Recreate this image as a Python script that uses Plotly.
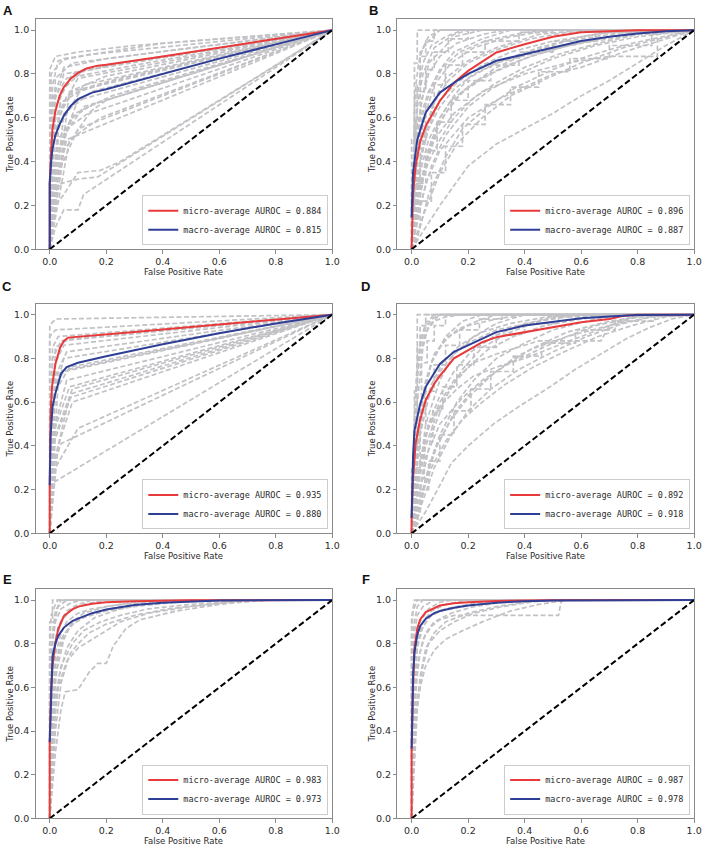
import plotly.graph_objects as go

W, H = 714, 856

panel_labels = ["A", "B", "C", "D", "E", "F"]
micro_auc = [0.884, 0.896, 0.935, 0.892, 0.983, 0.987]
macro_auc = [0.815, 0.887, 0.880, 0.918, 0.973, 0.978]
tick_vals = [0.0, 0.2, 0.4, 0.6, 0.8, 1.0]
tick_text = ["0.0", "0.2", "0.4", "0.6", "0.8", "1.0"]

# ---------------- Panel A ----------------
A_micro_fpr = [0, 0, 0.005, 0.01, 0.02, 0.035, 0.05, 0.075, 0.1, 0.13, 0.17, 0.2, 0.4, 0.6, 0.8, 1]
A_micro_tpr = [0, 0.3, 0.45, 0.55, 0.63, 0.7, 0.74, 0.78, 0.805, 0.825, 0.838, 0.842, 0.88, 0.92, 0.96, 1]
A_macro_fpr = [0, 0, 0.005, 0.01, 0.02, 0.035, 0.05, 0.075, 0.1, 0.15, 0.2, 0.4, 0.6, 0.8, 1]
A_macro_tpr = [0, 0.3, 0.4, 0.46, 0.52, 0.57, 0.61, 0.655, 0.685, 0.715, 0.73, 0.8, 0.87, 0.935, 1]
A_classes = [
    [(0, 0), (0, 0.82), (0.02, 0.88), (0.1, 0.9), (0.3, 0.93), (1, 1)],
    [(0, 0), (0.01, 0.75), (0.03, 0.86), (0.15, 0.89), (1, 1)],
    [(0, 0), (0.01, 0.68), (0.05, 0.83), (0.2, 0.87), (1, 1)],
    [(0, 0), (0.02, 0.65), (0.08, 0.8), (0.25, 0.85), (1, 1)],
    [(0, 0), (0.02, 0.6), (0.1, 0.78), (1, 1)],
    [(0, 0), (0.03, 0.55), (0.12, 0.75), (1, 1)],
    [(0, 0), (0.01, 0.5), (0.06, 0.7), (0.2, 0.76), (1, 1)],
    [(0, 0), (0.03, 0.45), (0.1, 0.68), (1, 1)],
    [(0, 0), (0.04, 0.5), (0.12, 0.65), (1, 1)],
    [(0, 0), (0.02, 0.4), (0.08, 0.6), (0.15, 0.66), (1, 1)],
    [(0, 0), (0.05, 0.45), (0.14, 0.62), (1, 1)],
    [(0, 0), (0.03, 0.35), (0.1, 0.55), (1, 1)],
    [(0, 0), (0.07, 0.5), (0.18, 0.6), (1, 1)],
    [(0, 0), (0.02, 0.3), (0.06, 0.5), (1, 1)],
    [(0, 0), (0.02, 0.2), (0.05, 0.25), (0.1, 0.35), (0.18, 0.36), (0.25, 0.4), (1, 1)],
    [(0, 0), (0.02, 0.1), (0.05, 0.18), (0.1, 0.18), (0.12, 0.25), (1, 1)],
    [(0, 0), (0.01, 0.25), (0.04, 0.3), (0.1, 0.32), (0.17, 0.33), (1, 1)],
    [(0, 0), (0.01, 0.65), (0.05, 0.8), (1, 1)],
    [(0, 0), (0.04, 0.72), (0.12, 0.82), (1, 1)],
    [(0, 0), (0.07, 0.72), (0.2, 0.79), (1, 1)],
    [(0, 0), (0.005, 0.8), (0.05, 0.87), (0.4, 0.94), (1, 1)],
    [(0, 0), (0.03, 0.6), (0.08, 0.72), (0.25, 0.78), (1, 1)],
    [(0, 0), (0.02, 0.7), (0.06, 0.78), (0.3, 0.84), (1, 1)],
    [(0, 0), (0.05, 0.62), (0.15, 0.72), (1, 1)],
    [(0, 0), (0.03, 0.5), (0.09, 0.62), (0.22, 0.7), (1, 1)],
    [(0, 0), (0.01, 0.55), (0.04, 0.67), (0.12, 0.73), (1, 1)],
    [(0, 0), (0.06, 0.55), (0.2, 0.68), (1, 1)],
    [(0, 0), (0.02, 0.78), (0.08, 0.85), (1, 1)],
]

# ---------------- Panel B ----------------
B_micro_fpr = [0, 0.005, 0.014, 0.03, 0.05, 0.1, 0.15, 0.2, 0.3, 0.4, 0.5, 0.6, 0.7, 0.8, 1]
B_micro_tpr = [0, 0.25, 0.38, 0.49, 0.563, 0.677, 0.76, 0.814, 0.898, 0.936, 0.97, 0.99, 0.995, 0.999, 1]
B_macro_fpr = [0, 0.005, 0.02, 0.05, 0.1, 0.15, 0.2, 0.3, 0.4, 0.5, 0.6, 0.7, 0.8, 0.9, 1]
B_macro_tpr = [0.145, 0.35, 0.5, 0.624, 0.715, 0.76, 0.8, 0.86, 0.89, 0.92, 0.95, 0.97, 0.985, 0.995, 1]
B_classes = [
    [(0, 0), (0, 0.5), (0.01, 0.5), (0.01, 0.85), (0.02, 0.85), (0.02, 1.0), (1, 1)],
    [(0, 0), (0.01, 0.3), (0.01, 0.7), (0.03, 0.75), (0.03, 0.9), (0.06, 0.95), (0.1, 1.0), (1, 1)],
    [(0, 0), (0.01, 0.2), (0.02, 0.55), (0.04, 0.7), (0.06, 0.85), (0.1, 0.9), (0.15, 0.97), (0.25, 1.0), (1, 1)],
    [(0, 0), (0.02, 0.35), (0.03, 0.6), (0.06, 0.72), (0.1, 0.82), (0.15, 0.9), (0.25, 0.96), (0.35, 1), (1, 1)],
    [(0, 0), (0.02, 0.25), (0.04, 0.5), (0.08, 0.68), (0.12, 0.78), (0.2, 0.86), (0.3, 0.92), (0.45, 0.98), (0.6, 1), (1, 1)],
    [(0, 0), (0.01, 0.1), (0.03, 0.4), (0.06, 0.56), (0.1, 0.68), (0.16, 0.76), (0.25, 0.84), (0.35, 0.9), (0.5, 0.95), (0.7, 0.99), (1, 1)],
    [(0, 0), (0.02, 0.15), (0.05, 0.4), (0.1, 0.58), (0.15, 0.68), (0.22, 0.76), (0.3, 0.83), (0.42, 0.9), (0.55, 0.95), (0.75, 0.99), (1, 1)],
    [(0, 0), (0.03, 0.2), (0.07, 0.38), (0.12, 0.52), (0.2, 0.65), (0.28, 0.73), (0.38, 0.8), (0.5, 0.87), (0.65, 0.93), (0.8, 0.97), (1, 1)],
    [(0, 0), (0.04, 0.15), (0.1, 0.35), (0.16, 0.48), (0.25, 0.6), (0.35, 0.7), (0.48, 0.78), (0.6, 0.85), (0.75, 0.92), (0.9, 0.97), (1, 1)],
    [(0, 0), (0.05, 0.1), (0.1, 0.2), (0.2, 0.38), (0.3, 0.48), (0.4, 0.55), (0.5, 0.62), (0.6, 0.7), (0.7, 0.77), (0.8, 0.85), (0.9, 0.93), (1, 1)],
    [(0, 0), (0.03, 0.3), (0.08, 0.5), (0.15, 0.62), (0.25, 0.72), (0.4, 0.8), (0.55, 0.85), (0.7, 0.88), (0.87, 0.88), (0.87, 1.0), (1, 1)],
    [(0, 0), (0, 0.3), (0.01, 0.45), (0.02, 0.65), (0.04, 0.8), (0.08, 0.92), (0.15, 0.98), (0.2, 1), (1, 1)],
    [(0, 0), (0.01, 0.25), (0.02, 0.45), (0.05, 0.62), (0.08, 0.75), (0.14, 0.85), (0.22, 0.92), (0.35, 0.97), (0.5, 1), (1, 1)],
    [(0, 0), (0.02, 0.2), (0.04, 0.35), (0.07, 0.5), (0.12, 0.62), (0.18, 0.72), (0.28, 0.8), (0.4, 0.87), (0.55, 0.93), (0.7, 0.97), (0.85, 1), (1, 1)],
    [(0, 0), (0.03, 0.25), (0.06, 0.45), (0.1, 0.6), (0.15, 0.7), (0.2, 0.78), (0.3, 0.85), (0.45, 0.9), (0.6, 0.94), (0.8, 0.98), (1, 1)],
    [(0, 0), (0.02, 0.05), (0.06, 0.25), (0.12, 0.42), (0.18, 0.55), (0.27, 0.65), (0.37, 0.74), (0.5, 0.82), (0.62, 0.88), (0.78, 0.94), (1, 1)],
    [(0, 0), (0.01, 0.4), (0.02, 0.7), (0.04, 0.85), (0.07, 0.93), (0.12, 0.97), (0.18, 1), (1, 1)],
    [(0, 0), (0.05, 0.3), (0.1, 0.45), (0.2, 0.6), (0.3, 0.68), (0.42, 0.75), (0.5, 0.8), (0.6, 0.83), (0.75, 0.9), (0.9, 0.96), (1, 1)],
    [(0, 0), (0, 0.2), (0.01, 0.2), (0.01, 0.55), (0.02, 0.55), (0.02, 0.75), (0.03, 0.75), (0.03, 0.88), (0.05, 0.88), (0.05, 0.95), (0.08, 0.95), (0.08, 1), (1, 1)],
    [(0, 0), (0.005, 0.15), (0.005, 0.35), (0.015, 0.35), (0.015, 0.6), (0.03, 0.6), (0.03, 0.72), (0.05, 0.72), (0.05, 0.82), (0.08, 0.82), (0.08, 0.9), (0.13, 0.9), (0.13, 0.96), (0.2, 0.96), (0.2, 1), (1, 1)],
    [(0, 0), (0.01, 0.1), (0.01, 0.3), (0.03, 0.3), (0.03, 0.5), (0.05, 0.5), (0.05, 0.65), (0.08, 0.65), (0.08, 0.75), (0.12, 0.75), (0.12, 0.84), (0.18, 0.84), (0.18, 0.9), (0.26, 0.9), (0.26, 0.95), (0.38, 0.95), (0.38, 0.99), (0.5, 0.99), (0.5, 1), (1, 1)],
    [(0, 0), (0.02, 0.15), (0.02, 0.3), (0.05, 0.3), (0.05, 0.45), (0.09, 0.45), (0.09, 0.58), (0.14, 0.58), (0.14, 0.68), (0.2, 0.68), (0.2, 0.77), (0.28, 0.77), (0.28, 0.84), (0.38, 0.84), (0.38, 0.9), (0.5, 0.9), (0.5, 0.95), (0.65, 0.95), (0.65, 0.99), (0.8, 0.99), (0.8, 1), (1, 1)],
    [(0, 0), (0.03, 0.1), (0.03, 0.22), (0.07, 0.22), (0.07, 0.35), (0.12, 0.35), (0.12, 0.47), (0.18, 0.47), (0.18, 0.57), (0.26, 0.57), (0.26, 0.66), (0.35, 0.66), (0.35, 0.74), (0.45, 0.74), (0.45, 0.81), (0.56, 0.81), (0.56, 0.87), (0.7, 0.87), (0.7, 0.93), (0.85, 0.93), (0.85, 0.98), (1, 1)],
    [(0, 0), (0.005, 0.4), (0.01, 0.62), (0.015, 0.75), (0.025, 0.85), (0.04, 0.92), (0.06, 0.97), (0.1, 1), (1, 1)],
    [(0, 0), (0.01, 0.35), (0.02, 0.5), (0.035, 0.68), (0.06, 0.8), (0.1, 0.88), (0.16, 0.94), (0.25, 0.98), (0.33, 1), (1, 1)],
    [(0, 0), (0.015, 0.2), (0.03, 0.4), (0.05, 0.55), (0.08, 0.67), (0.13, 0.77), (0.2, 0.85), (0.3, 0.91), (0.42, 0.96), (0.55, 0.99), (0.7, 1), (1, 1)],
    [(0, 0), (0.02, 0.3), (0.04, 0.45), (0.06, 0.55), (0.1, 0.65), (0.15, 0.73), (0.22, 0.8), (0.32, 0.86), (0.45, 0.92), (0.6, 0.97), (0.75, 1), (1, 1)],
    [(0, 0), (0.01, 0.15), (0.03, 0.28), (0.06, 0.4), (0.1, 0.5), (0.15, 0.6), (0.22, 0.69), (0.3, 0.76), (0.4, 0.83), (0.52, 0.89), (0.66, 0.94), (0.8, 0.98), (1, 1)],
    [(0, 0), (0.02, 0.45), (0.04, 0.62), (0.07, 0.74), (0.11, 0.83), (0.17, 0.9), (0.26, 0.95), (0.4, 0.99), (0.5, 1), (1, 1)],
    [(0, 0), (0.03, 0.35), (0.06, 0.5), (0.1, 0.6), (0.14, 0.68), (0.2, 0.74), (0.26, 0.79), (0.34, 0.84), (0.44, 0.89), (0.56, 0.93), (0.7, 0.97), (0.85, 1), (1, 1)],
]

# ---------------- Panel C ----------------
C_micro_fpr = [0, 0, 0.003, 0.008, 0.02, 0.037, 0.05, 0.065, 0.3, 0.6, 1]
C_micro_tpr = [0, 0.22, 0.55, 0.67, 0.775, 0.85, 0.88, 0.895, 0.921, 0.955, 1]
C_macro_fpr = [0, 0.003, 0.01, 0.02, 0.04, 0.06, 0.1, 0.2, 0.4, 0.6, 0.8, 1]
C_macro_tpr = [0.22, 0.45, 0.58, 0.64, 0.73, 0.76, 0.78, 0.81, 0.865, 0.915, 0.96, 1]
C_classes = [
    [(0, 0), (0, 0.95), (0.02, 0.98), (1, 1)],
    [(0, 0), (0, 0.9), (0.02, 0.93), (1, 1)],
    [(0, 0), (0.01, 0.85), (0.03, 0.9), (1, 1)],
    [(0, 0), (0.01, 0.8), (0.04, 0.88), (1, 1)],
    [(0, 0), (0.02, 0.78), (0.05, 0.86), (1, 1)],
    [(0, 0), (0.02, 0.72), (0.06, 0.83), (1, 1)],
    [(0, 0), (0.01, 0.6), (0.05, 0.8), (1, 1)],
    [(0, 0), (0.02, 0.65), (0.07, 0.76), (1, 1)],
    [(0, 0), (0.01, 0.55), (0.03, 0.74), (1, 1)],
    [(0, 0), (0.02, 0.5), (0.06, 0.7), (1, 1)],
    [(0, 0), (0.01, 0.45), (0.07, 0.67), (1, 1)],
    [(0, 0), (0.02, 0.45), (0.08, 0.66), (1, 1)],
    [(0, 0), (0.01, 0.4), (0.08, 0.64), (1, 1)],
    [(0, 0), (0.02, 0.35), (0.07, 0.62), (1, 1)],
    [(0, 0), (0.03, 0.4), (0.08, 0.6), (1, 1)],
    [(0, 0), (0.01, 0.3), (0.04, 0.41), (1, 1)],
    [(0, 0), (0, 0.15), (0.01, 0.23), (1, 1)],
    [(0, 0), (0.02, 0.3), (0.1, 0.48), (1, 1)],
    [(0, 0), (0.02, 0.85), (0.07, 0.89), (1, 1)],
    [(0, 0), (0.03, 0.7), (0.05, 0.74), (1, 1)],
]

# ---------------- Panel D ----------------
D_micro_fpr = [0, 0, 0.005, 0.014, 0.03, 0.05, 0.08, 0.1, 0.15, 0.2, 0.25, 0.3, 0.4, 0.5, 0.6, 0.7, 0.75, 0.8, 1]
D_micro_tpr = [0, 0.07, 0.25, 0.41, 0.52, 0.61, 0.684, 0.72, 0.8, 0.836, 0.874, 0.897, 0.92, 0.94, 0.965, 0.98, 0.995, 1, 1]
D_macro_fpr = [0, 0.005, 0.01, 0.02, 0.03, 0.05, 0.08, 0.1, 0.15, 0.2, 0.3, 0.4, 0.5, 0.6, 0.7, 0.8, 1]
D_macro_tpr = [0.07, 0.35, 0.47, 0.53, 0.59, 0.67, 0.73, 0.775, 0.83, 0.86, 0.92, 0.95, 0.968, 0.983, 0.992, 0.998, 1]
D_classes = [
    [(0, 0), (0.01, 0.5), (0.02, 0.8), (0.02, 1.0), (1, 1)],
    [(0, 0), (0.01, 0.3), (0.02, 0.6), (0.04, 0.85), (0.06, 0.95), (0.1, 1), (1, 1)],
    [(0, 0), (0.02, 0.3), (0.04, 0.6), (0.07, 0.78), (0.12, 0.9), (0.18, 0.97), (0.25, 1), (1, 1)],
    [(0, 0), (0.02, 0.2), (0.05, 0.5), (0.1, 0.7), (0.15, 0.82), (0.22, 0.9), (0.3, 0.96), (0.4, 1), (1, 1)],
    [(0, 0), (0.03, 0.2), (0.07, 0.45), (0.12, 0.62), (0.18, 0.75), (0.25, 0.85), (0.35, 0.92), (0.45, 0.97), (0.55, 1), (1, 1)],
    [(0, 0), (0.02, 0.1), (0.06, 0.3), (0.1, 0.45), (0.16, 0.6), (0.22, 0.7), (0.3, 0.8), (0.4, 0.87), (0.5, 0.93), (0.65, 0.98), (0.75, 1), (1, 1)],
    [(0, 0), (0.04, 0.15), (0.08, 0.3), (0.14, 0.45), (0.2, 0.56), (0.28, 0.66), (0.38, 0.75), (0.5, 0.83), (0.62, 0.9), (0.75, 0.96), (0.85, 0.99), (1, 1)],
    [(0, 0), (0.05, 0.1), (0.1, 0.22), (0.14, 0.32), (0.2, 0.4), (0.29, 0.5), (0.38, 0.58), (0.49, 0.67), (0.58, 0.75), (0.67, 0.82), (0.76, 0.89), (0.84, 0.94), (0.92, 0.98), (1, 1)],
    [(0, 0), (0.02, 0.25), (0.05, 0.45), (0.1, 0.6), (0.15, 0.7), (0.22, 0.78), (0.3, 0.82), (0.4, 0.86), (0.45, 0.88), (0.67, 0.88), (0.7, 0.95), (0.8, 1), (1, 1)],
    [(0, 0), (0.01, 0.2), (0.03, 0.45), (0.06, 0.62), (0.1, 0.74), (0.15, 0.82), (0.2, 0.87), (0.3, 0.93), (0.45, 0.97), (0.6, 1), (1, 1)],
    [(0, 0), (0.03, 0.3), (0.06, 0.5), (0.1, 0.58), (0.16, 0.66), (0.22, 0.72), (0.3, 0.76), (0.4, 0.8), (0.5, 0.85), (0.6, 0.9), (0.7, 0.95), (0.8, 0.99), (1, 1)],
    [(0, 0), (0.01, 0.4), (0.02, 0.7), (0.03, 0.88), (0.05, 0.96), (0.08, 1), (1, 1)],
    [(0, 0), (0.02, 0.05), (0.04, 0.2), (0.08, 0.38), (0.14, 0.52), (0.2, 0.62), (0.28, 0.72), (0.36, 0.8), (0.45, 0.86), (0.55, 0.92), (0.7, 0.97), (0.85, 1), (1, 1)],
    [(0, 0), (0.015, 0.3), (0.03, 0.55), (0.05, 0.7), (0.08, 0.82), (0.13, 0.9), (0.2, 0.95), (0.3, 0.98), (0.4, 1), (1, 1)],
    [(0, 0), (0.02, 0.15), (0.05, 0.35), (0.1, 0.5), (0.18, 0.62), (0.25, 0.7), (0.35, 0.78), (0.45, 0.84), (0.55, 0.9), (0.65, 0.95), (0.8, 0.99), (1, 1)],
    [(0, 0), (0.03, 0.1), (0.05, 0.25), (0.09, 0.4), (0.15, 0.55), (0.22, 0.66), (0.32, 0.76), (0.42, 0.84), (0.55, 0.9), (0.7, 0.95), (0.85, 0.99), (1, 1)],
    [(0, 0), (0, 0.3), (0.01, 0.3), (0.01, 0.65), (0.02, 0.65), (0.02, 0.85), (0.03, 0.85), (0.03, 0.95), (0.05, 0.95), (0.05, 1), (1, 1)],
    [(0, 0), (0.005, 0.2), (0.01, 0.4), (0.02, 0.4), (0.02, 0.62), (0.035, 0.62), (0.035, 0.78), (0.055, 0.78), (0.055, 0.88), (0.08, 0.88), (0.08, 0.95), (0.12, 0.95), (0.12, 1), (1, 1)],
    [(0, 0), (0.01, 0.1), (0.01, 0.3), (0.03, 0.3), (0.03, 0.5), (0.05, 0.5), (0.05, 0.65), (0.08, 0.65), (0.08, 0.77), (0.12, 0.77), (0.12, 0.86), (0.17, 0.86), (0.17, 0.93), (0.24, 0.93), (0.24, 0.98), (0.32, 0.98), (0.32, 1), (1, 1)],
    [(0, 0), (0.02, 0.1), (0.02, 0.25), (0.045, 0.25), (0.045, 0.42), (0.075, 0.42), (0.075, 0.56), (0.11, 0.56), (0.11, 0.67), (0.16, 0.67), (0.16, 0.77), (0.22, 0.77), (0.22, 0.85), (0.3, 0.85), (0.3, 0.91), (0.4, 0.91), (0.4, 0.96), (0.52, 0.96), (0.52, 0.99), (0.65, 0.99), (0.65, 1), (1, 1)],
    [(0, 0), (0.03, 0.1), (0.03, 0.2), (0.06, 0.2), (0.06, 0.33), (0.1, 0.33), (0.1, 0.45), (0.15, 0.45), (0.15, 0.56), (0.21, 0.56), (0.21, 0.66), (0.28, 0.66), (0.28, 0.74), (0.36, 0.74), (0.36, 0.81), (0.46, 0.81), (0.46, 0.87), (0.58, 0.87), (0.58, 0.93), (0.72, 0.93), (0.72, 0.97), (0.86, 0.97), (0.86, 1), (1, 1)],
    [(0, 0), (0.005, 0.35), (0.01, 0.55), (0.02, 0.75), (0.03, 0.86), (0.05, 0.94), (0.07, 0.98), (0.1, 1), (1, 1)],
    [(0, 0), (0.01, 0.25), (0.025, 0.5), (0.045, 0.66), (0.07, 0.78), (0.11, 0.87), (0.16, 0.93), (0.23, 0.97), (0.3, 1), (1, 1)],
    [(0, 0), (0.015, 0.15), (0.035, 0.35), (0.06, 0.5), (0.1, 0.63), (0.15, 0.74), (0.21, 0.83), (0.29, 0.9), (0.38, 0.95), (0.5, 0.99), (0.6, 1), (1, 1)],
    [(0, 0), (0.02, 0.2), (0.05, 0.4), (0.09, 0.55), (0.14, 0.67), (0.2, 0.76), (0.27, 0.84), (0.36, 0.9), (0.47, 0.95), (0.6, 0.98), (0.72, 1), (1, 1)],
    [(0, 0), (0.01, 0.45), (0.02, 0.72), (0.035, 0.85), (0.05, 0.92), (0.08, 0.97), (0.12, 0.99), (0.18, 1), (1, 1)],
    [(0, 0), (0.03, 0.15), (0.07, 0.3), (0.12, 0.42), (0.18, 0.52), (0.25, 0.6), (0.33, 0.68), (0.43, 0.76), (0.54, 0.83), (0.66, 0.9), (0.78, 0.95), (0.9, 0.99), (1, 1)],
    [(0, 0), (0.02, 0.35), (0.04, 0.55), (0.07, 0.68), (0.11, 0.78), (0.17, 0.86), (0.25, 0.92), (0.35, 0.96), (0.48, 0.99), (0.58, 1), (1, 1)],
]

# ---------------- Panel E ----------------
E_micro_fpr = [0, 0, 0.005, 0.01, 0.02, 0.03, 0.05, 0.08, 0.1, 0.15, 0.2, 0.3, 0.5, 1]
E_micro_tpr = [0, 0.35, 0.6, 0.7, 0.805, 0.866, 0.927, 0.957, 0.97, 0.983, 0.99, 0.995, 0.999, 1]
E_macro_fpr = [0, 0.005, 0.01, 0.02, 0.03, 0.05, 0.08, 0.1, 0.15, 0.2, 0.3, 0.4, 0.5, 0.6, 1]
E_macro_tpr = [0.35, 0.6, 0.745, 0.8, 0.836, 0.874, 0.904, 0.915, 0.94, 0.957, 0.977, 0.988, 0.994, 0.998, 1]
E_classes = [
    [(0, 0), (0, 0.9), (0.01, 0.9), (0.01, 1), (1, 1)],
    [(0, 0), (0, 0.7), (0.01, 0.85), (0.02, 0.95), (0.04, 1), (1, 1)],
    [(0, 0), (0.005, 0.5), (0.01, 0.75), (0.03, 0.88), (0.06, 0.95), (0.1, 0.98), (0.15, 1), (1, 1)],
    [(0, 0), (0.01, 0.4), (0.02, 0.65), (0.05, 0.82), (0.08, 0.9), (0.12, 0.94), (0.2, 0.97), (0.3, 0.99), (0.4, 1), (1, 1)],
    [(0, 0), (0.01, 0.3), (0.02, 0.55), (0.04, 0.7), (0.08, 0.8), (0.12, 0.86), (0.18, 0.9), (0.25, 0.93), (0.35, 0.96), (0.5, 0.98), (0.7, 1), (1, 1)],
    [(0, 0), (0.02, 0.3), (0.04, 0.5), (0.055, 0.58), (0.1, 0.59), (0.14, 0.67), (0.17, 0.71), (0.2, 0.71), (0.225, 0.79), (0.27, 0.87), (0.32, 0.91), (0.45, 0.95), (0.6, 0.98), (0.75, 1), (1, 1)],
    [(0, 0), (0.01, 0.35), (0.03, 0.6), (0.06, 0.72), (0.1, 0.78), (0.15, 0.82), (0.2, 0.86), (0.25, 0.9), (0.35, 0.94), (0.5, 0.97), (0.65, 0.99), (0.8, 1), (1, 1)],
    [(0, 0), (0.005, 0.6), (0.01, 0.8), (0.02, 0.9), (0.04, 0.96), (0.08, 0.99), (0.12, 1), (1, 1)],
    [(0, 0), (0.01, 0.45), (0.02, 0.7), (0.04, 0.82), (0.07, 0.88), (0.12, 0.92), (0.2, 0.95), (0.3, 0.97), (0.45, 0.99), (0.6, 1), (1, 1)],
    [(0, 0), (0.01, 0.5), (0.02, 0.75), (0.04, 0.85), (0.06, 0.9), (0.1, 0.94), (0.15, 0.96), (0.25, 0.98), (0.4, 0.995), (0.55, 1), (1, 1)],
    [(0, 0), (0, 0.55), (0.01, 0.82), (0.02, 0.92), (0.03, 0.97), (0.06, 1), (1, 1)],
    [(0, 0), (0.02, 0.4), (0.04, 0.62), (0.07, 0.75), (0.1, 0.8), (0.14, 0.85), (0.2, 0.89), (0.3, 0.93), (0.42, 0.96), (0.55, 0.98), (0.7, 1), (1, 1)],
    [(0, 0), (0, 0.8), (0.005, 0.93), (0.02, 0.98), (0.03, 1), (1, 1)],
    [(0, 0), (0.01, 0.6), (0.02, 0.8), (0.04, 0.9), (0.07, 0.95), (0.12, 0.98), (0.2, 1), (1, 1)],
    [(0, 0), (0.015, 0.55), (0.03, 0.74), (0.05, 0.84), (0.09, 0.9), (0.15, 0.94), (0.25, 0.97), (0.38, 0.99), (0.5, 1), (1, 1)],
    [(0, 0), (0.02, 0.5), (0.035, 0.66), (0.06, 0.78), (0.1, 0.86), (0.16, 0.92), (0.25, 0.96), (0.35, 0.985), (0.5, 1), (1, 1)],
]

# ---------------- Panel F ----------------
F_micro_fpr = [0, 0, 0.005, 0.01, 0.02, 0.03, 0.05, 0.08, 0.1, 0.15, 0.2, 0.3, 0.5, 1]
F_micro_tpr = [0, 0.3, 0.6, 0.78, 0.87, 0.91, 0.945, 0.965, 0.975, 0.985, 0.99, 0.996, 0.999, 1]
F_macro_fpr = [0, 0.005, 0.01, 0.02, 0.03, 0.05, 0.08, 0.1, 0.15, 0.2, 0.3, 0.4, 0.5, 1]
F_macro_tpr = [0.32, 0.65, 0.76, 0.84, 0.88, 0.915, 0.94, 0.95, 0.965, 0.975, 0.988, 0.995, 0.998, 1]
F_classes = [
    [(0, 0), (0, 0.92), (0.01, 1), (1, 1)],
    [(0, 0), (0, 0.75), (0.01, 0.9), (0.02, 0.97), (0.04, 1), (1, 1)],
    [(0, 0), (0.005, 0.6), (0.01, 0.8), (0.03, 0.9), (0.06, 0.96), (0.1, 0.99), (0.15, 1), (1, 1)],
    [(0, 0), (0.01, 0.45), (0.02, 0.7), (0.04, 0.82), (0.07, 0.88), (0.1, 0.91), (0.15, 0.93), (0.2, 0.93), (0.52, 0.93), (0.53, 1), (1, 1)],
    [(0, 0), (0.01, 0.35), (0.02, 0.55), (0.05, 0.7), (0.08, 0.77), (0.12, 0.82), (0.18, 0.86), (0.25, 0.9), (0.35, 0.95), (0.45, 0.98), (0.55, 1), (1, 1)],
    [(0, 0), (0.005, 0.5), (0.01, 0.72), (0.03, 0.85), (0.06, 0.92), (0.1, 0.95), (0.18, 0.97), (0.3, 0.99), (0.4, 1), (1, 1)],
    [(0, 0), (0.01, 0.4), (0.03, 0.65), (0.05, 0.78), (0.08, 0.85), (0.12, 0.9), (0.2, 0.94), (0.3, 0.97), (0.45, 1), (1, 1)],
    [(0, 0), (0, 0.65), (0.01, 0.85), (0.02, 0.93), (0.04, 0.97), (0.08, 1), (1, 1)],
    [(0, 0), (0.01, 0.55), (0.02, 0.78), (0.04, 0.88), (0.07, 0.93), (0.12, 0.96), (0.2, 0.98), (0.3, 1), (1, 1)],
    [(0, 0), (0.02, 0.5), (0.04, 0.7), (0.06, 0.8), (0.1, 0.86), (0.15, 0.9), (0.22, 0.94), (0.32, 0.97), (0.42, 0.99), (0.5, 1), (1, 1)],
    [(0, 0), (0, 0.85), (0.005, 0.95), (0.015, 0.99), (0.02, 1), (1, 1)],
    [(0, 0), (0.01, 0.65), (0.02, 0.82), (0.04, 0.9), (0.07, 0.95), (0.12, 0.98), (0.2, 1), (1, 1)],
    [(0, 0), (0.015, 0.6), (0.03, 0.76), (0.05, 0.85), (0.08, 0.9), (0.14, 0.94), (0.22, 0.97), (0.32, 0.99), (0.4, 1), (1, 1)],
]

diag_x = [0, 1]
diag_y = [0, 1]

panels = [
    (A_classes, A_micro_fpr, A_micro_tpr, A_macro_fpr, A_macro_tpr),
    (B_classes, B_micro_fpr, B_micro_tpr, B_macro_fpr, B_macro_tpr),
    (C_classes, C_micro_fpr, C_micro_tpr, C_macro_fpr, C_macro_tpr),
    (D_classes, D_micro_fpr, D_micro_tpr, D_macro_fpr, D_macro_tpr),
    (E_classes, E_micro_fpr, E_micro_tpr, E_macro_fpr, E_macro_tpr),
    (F_classes, F_micro_fpr, F_micro_tpr, F_macro_fpr, F_macro_tpr),
]

# ---------------- layout geometry (pixels) ----------------
col_px = [(36, 336), (402, 702)]
row_px = [(19.3, 250.7), (305.5, 536.5), (592.6, 823.3)]
letter_px = [(8, 11), (378, 11), (7.5, 288), (370, 288), (7.5, 582.5), (370, 582.5)]


def px_x(p):
    return p / W


def px_y(p):
    return 1 - p / H


RED = "#e8393b"
BLUE = "#2f3f96"
GRAY = "#c2c2c6"
FRAME = "#8a8a8a"
TXT = "#2b2b2b"

fig = go.Figure()
layout = dict(
    width=W, height=H, margin=dict(l=0, r=0, t=0, b=0),
    paper_bgcolor="white", plot_bgcolor="white", showlegend=True,
    font=dict(family="DejaVu Sans", color=TXT, size=9.5),
)
annotations = []

for i, (classes, mi_x, mi_y, ma_x, ma_y) in enumerate(panels):
    r, c = divmod(i, 2)
    n = "" if i == 0 else str(i + 1)
    xa, ya = "x" + n, "y" + n
    leg = "legend" + n
    x0, x1 = col_px[c]
    t0, t1 = row_px[r]

    for cur in classes:
        fig.add_trace(go.Scatter(
            x=[p[0] for p in cur], y=[p[1] for p in cur], mode="lines",
            line=dict(color=GRAY, width=1.7, dash="5px,2.5px"),
            showlegend=False, hoverinfo="skip", xaxis=xa, yaxis=ya, legend=leg))
    fig.add_trace(go.Scatter(
        x=mi_x, y=mi_y, mode="lines", line=dict(color=RED, width=2),
        name=f"micro-average AUROC = {micro_auc[i]:.3f}", xaxis=xa, yaxis=ya, legend=leg))
    fig.add_trace(go.Scatter(
        x=ma_x, y=ma_y, mode="lines", line=dict(color=BLUE, width=2),
        name=f"macro-average AUROC = {macro_auc[i]:.3f}", xaxis=xa, yaxis=ya, legend=leg))
    fig.add_trace(go.Scatter(
        x=diag_x, y=diag_y, mode="lines", line=dict(color="black", width=2, dash="6px,3px"),
        showlegend=False, hoverinfo="skip", xaxis=xa, yaxis=ya, legend=leg))

    axis_common = dict(
        showline=True, mirror=True, linecolor=FRAME, linewidth=1,
        ticks="outside", ticklen=3.5, tickwidth=1, tickcolor=FRAME,
        showgrid=False, zeroline=False, tickvals=tick_vals, ticktext=tick_text,
        tickfont=dict(family="DejaVu Sans", size=9.5, color=TXT), fixedrange=True,
    )
    layout["xaxis" + n] = dict(axis_common, domain=[px_x(x0), px_x(x1)],
                               range=[-0.05, 1.0], anchor=ya)
    layout["yaxis" + n] = dict(axis_common, domain=[px_y(t1), px_y(t0)],
                               range=[0.0, 1.05], anchor=xa)
    layout[leg] = dict(
        x=px_x(x1 - 4), y=px_y(t1 - 4), xanchor="right", yanchor="bottom",
        bgcolor="white", bordercolor="#cccccc", borderwidth=1,
        font=dict(family="DejaVu Sans Mono", size=8.5, color=TXT),
        itemwidth=30, tracegroupgap=0,
    )

    # axis titles
    annotations.append(dict(
        text="False Positive Rate", x=px_x((x0 + x1) / 2), y=px_y(t1 + 22.5),
        xref="paper", yref="paper", showarrow=False, xanchor="center", yanchor="middle",
        font=dict(family="DejaVu Sans", size=8.5, color=TXT)))
    annotations.append(dict(
        text="True Positive Rate", x=px_x(x0 - 26), y=px_y((t0 + t1) / 2),
        xref="paper", yref="paper", showarrow=False, xanchor="center", yanchor="middle",
        textangle=-90, font=dict(family="DejaVu Sans", size=8.5, color=TXT)))
    # panel letter
    lx, ly = letter_px[i]
    annotations.append(dict(
        text=f"<b>{panel_labels[i]}</b>", x=px_x(lx), y=px_y(ly),
        xref="paper", yref="paper", showarrow=False, xanchor="center", yanchor="middle",
        font=dict(family="Liberation Sans", size=13, color="#111111")))

layout["annotations"] = annotations
fig.update_layout(**layout)
fig.write_html(
    "out.html",
    config={"displayModeBar": False},
    post_script="document.body.style.margin='0';document.body.style.overflow='hidden';",
)
